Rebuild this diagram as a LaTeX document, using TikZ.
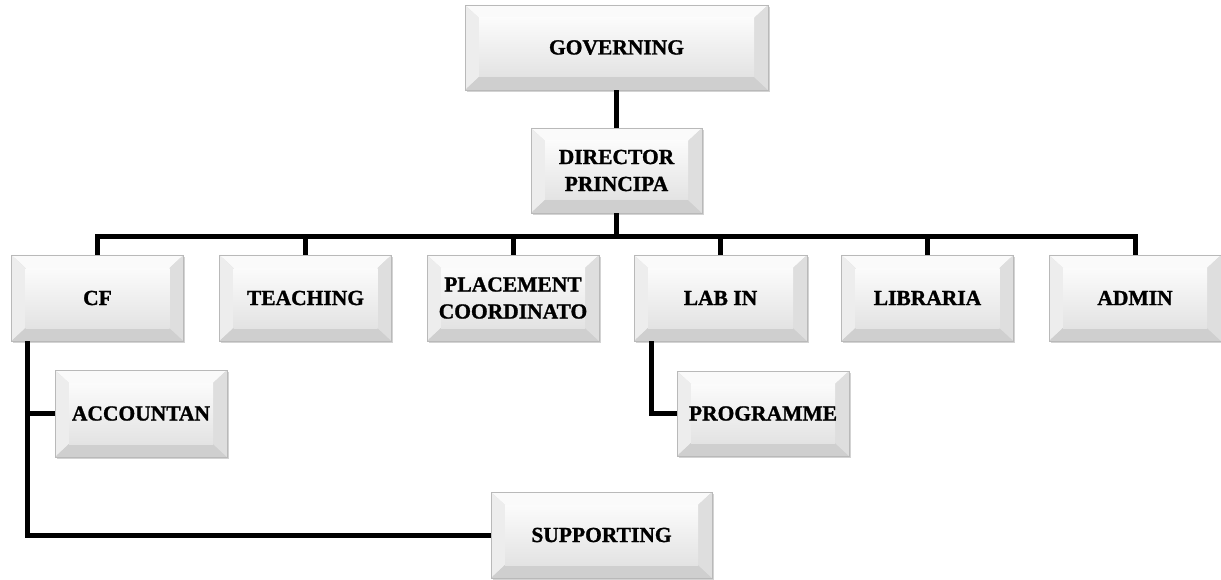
\documentclass[tikz,border=0pt]{standalone}
\usepackage{fontspec}
\setmainfont[BoldFeatures={FakeBold=1.2}]{Liberation Serif}
\usetikzlibrary{shadows}
\tikzset{
  bevbox/.style={rectangle, inner sep=0pt, minimum width=172pt, minimum height=86pt,
    draw=gray!55, line width=0.8pt, align=center,
    font=\fontsize{21.5}{27}\selectfont\bfseries,
    drop shadow={shadow xshift=1.5pt, shadow yshift=-2pt, opacity=0.35, fill=gray},
    path picture={
      \fill[gray!4] (path picture bounding box.north west) -- (path picture bounding box.north east)
        -- ([shift={(-14pt,-13pt)}]path picture bounding box.north east)
        -- ([shift={(14pt,-13pt)}]path picture bounding box.north west) -- cycle;
      \fill[gray!14] (path picture bounding box.north west) -- ([shift={(14pt,-13pt)}]path picture bounding box.north west)
        -- ([shift={(14pt,13pt)}]path picture bounding box.south west)
        -- (path picture bounding box.south west) -- cycle;
      \fill[gray!38] (path picture bounding box.south west) -- ([shift={(14pt,13pt)}]path picture bounding box.south west)
        -- ([shift={(-14pt,13pt)}]path picture bounding box.south east)
        -- (path picture bounding box.south east) -- cycle;
      \fill[gray!26] (path picture bounding box.north east) -- (path picture bounding box.south east)
        -- ([shift={(-14pt,13pt)}]path picture bounding box.south east)
        -- ([shift={(-14pt,-13pt)}]path picture bounding box.north east) -- cycle;
      \shade[top color=gray!3, bottom color=gray!22]
        ([shift={(14pt,-13pt)}]path picture bounding box.north west)
        rectangle ([shift={(-14pt,13pt)}]path picture bounding box.south east);
    }},
  conn/.style={line width=5pt, black}
}
\begin{document}
\begin{tikzpicture}[x=1pt, y=-1pt]
\useasboundingbox (0,0) rectangle (1221,580);
\node[bevbox, minimum width=303pt, minimum height=85pt] (gov) at (616.5,47.5) {GOVERNING};
\node[bevbox, minimum width=171pt, minimum height=85pt] (dir) at (616.5,170.5) {DIRECTOR\\PRINCIPA};
\node[bevbox] (cf) at (97.5,298) {CF};
\node[bevbox] (teach) at (305.5,298) {TEACHING};
\node[bevbox] (place) at (513,298) {PLACEMENT\\COORDINATO};
\node[bevbox, minimum width=173pt] (lab) at (720.5,298) {LAB IN};
\node[bevbox] (lib) at (927.5,298) {LIBRARIA};
\node[bevbox] (admin) at (1135,298) {ADMIN};
\node[bevbox, minimum height=87pt] (acc) at (141,413.5) {ACCOUNTAN};
\node[bevbox, minimum height=85pt] (prog) at (763,413.5) {PROGRAMME};
\node[bevbox, minimum width=221pt] (sup) at (601.5,535) {SUPPORTING};

\coordinate (bus) at (616.5,237);
\draw[conn] (gov.south) -- (dir.north);
\foreach \c in {cf,teach,place,lab,lib,admin}{
  \draw[conn] (dir.south) -- (bus) -| (\c.north);
}
\draw[conn] ([xshift=16pt]cf.south west) |- (acc.west);
\draw[conn] ([xshift=16pt]cf.south west) |- (sup.west);
\draw[conn] ([xshift=18pt]lab.south west) |- (prog.west);
\end{tikzpicture}
\end{document}
